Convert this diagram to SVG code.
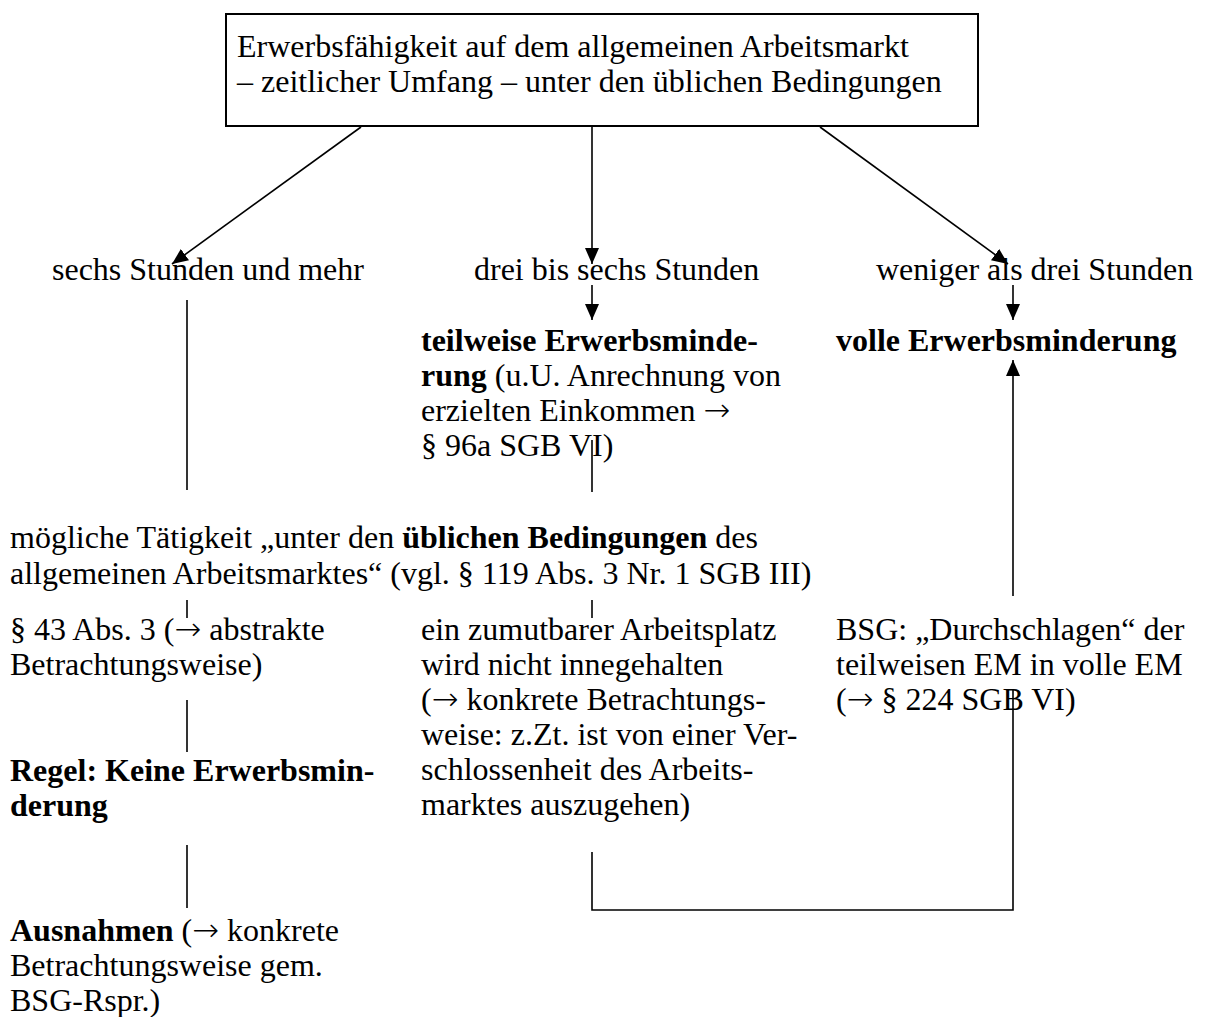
<svg xmlns="http://www.w3.org/2000/svg" width="1221" height="1017" viewBox="0 0 1221 1017">
  <defs>
    <marker id="arrowLg" viewBox="0 0 16 14" refX="16" refY="7" markerWidth="16" markerHeight="14" markerUnits="userSpaceOnUse" orient="auto">
      <path d="M0,0 L16,7 L0,14 Z" fill="#000"/>
    </marker>
  </defs>
  <style>
    text { font-family: "Liberation Serif", "Times New Roman", serif; font-size: 32px; fill: #000; }
    .b { font-weight: bold; }
    .ar { font-family: "DejaVu Sans", "Liberation Serif", serif; font-size: 32px; font-weight: 200; }
    .box { fill: #fff; stroke: #000; stroke-width: 2; }
    .ln { fill: none; stroke: #000; stroke-width: 1.6; }
  </style>
  <rect width="1221" height="1017" fill="#fff"/>

  <!-- connectors -->
  <g id="connectors">
    <line class="ln" x1="361" y1="127" x2="172" y2="264" marker-end="url(#arrowLg)"/>
    <line class="ln" x1="592" y1="127" x2="592" y2="264" marker-end="url(#arrowLg)"/>
    <line class="ln" x1="820" y1="127" x2="1008" y2="264" marker-end="url(#arrowLg)"/>
    <line class="ln" x1="592" y1="285" x2="592" y2="320" marker-end="url(#arrowLg)"/>
    <line class="ln" x1="1013" y1="285" x2="1013" y2="320" marker-end="url(#arrowLg)"/>
    <line class="ln" x1="1013" y1="596" x2="1013" y2="360" marker-end="url(#arrowLg)"/>
    <line class="ln" x1="187" y1="300" x2="187" y2="490"/>
    <line class="ln" x1="592" y1="440" x2="592" y2="492"/>
    <line class="ln" x1="187" y1="600" x2="187" y2="618"/>
    <line class="ln" x1="592" y1="600" x2="592" y2="618"/>
    <line class="ln" x1="187" y1="700" x2="187" y2="752"/>
    <line class="ln" x1="187" y1="845" x2="187" y2="908"/>
    <polyline class="ln" points="592,852 592,910 1013,910 1013,690"/>
  </g>

  <!-- top node -->
  <g id="node-erwerbsfaehigkeit">
    <rect class="box" x="226" y="14" width="752" height="112"/>
    <text x="237" y="57">Erwerbsfähigkeit auf dem allgemeinen Arbeitsmarkt</text>
    <text x="237" y="92">– zeitlicher Umfang – unter den üblichen Bedingungen</text>
  </g>

  <g id="node-sechs">
    <text x="52" y="280">sechs Stunden und mehr</text>
  </g>
  <g id="node-drei-bis-sechs">
    <text x="474" y="280">drei bis sechs Stunden</text>
  </g>
  <g id="node-weniger">
    <text x="876" y="280">weniger als drei Stunden</text>
  </g>

  <g id="node-teilweise">
    <text x="421" y="351" class="b">teilweise Erwerbsminde-</text>
    <text x="421" y="386"><tspan class="b">rung</tspan> (u.U. Anrechnung von</text>
    <text x="421" y="421">erzielten Einkommen <tspan class="ar">→</tspan></text>
    <text x="421" y="456">§ 96a SGB VI)</text>
  </g>
  <g id="node-volle">
    <text x="836" y="351" class="b">volle Erwerbsminderung</text>
  </g>

  <g id="node-moegliche">
    <text x="10" y="548">mögliche Tätigkeit „unter den <tspan class="b">üblichen Bedingungen</tspan> des</text>
    <text x="10" y="584">allgemeinen Arbeitsmarktes“ (vgl. § 119 Abs. 3 Nr. 1 SGB III)</text>
  </g>

  <g id="node-43">
    <text x="10" y="640">§ 43 Abs. 3 (<tspan class="ar">→</tspan> abstrakte</text>
    <text x="10" y="675">Betrachtungsweise)</text>
  </g>
  <g id="node-zumutbar">
    <text x="421" y="640">ein zumutbarer Arbeitsplatz</text>
    <text x="421" y="675">wird nicht innegehalten</text>
    <text x="421" y="710">(<tspan class="ar">→</tspan> konkrete Betrachtungs-</text>
    <text x="421" y="745">weise: z.Zt. ist von einer Ver-</text>
    <text x="421" y="780">schlossenheit des Arbeits-</text>
    <text x="421" y="815">marktes auszugehen)</text>
  </g>
  <g id="node-bsg">
    <text x="836" y="640">BSG: „Durchschlagen“ der</text>
    <text x="836" y="675">teilweisen EM in volle EM</text>
    <text x="836" y="710">(<tspan class="ar">→</tspan> § 224 SGB VI)</text>
  </g>

  <g id="node-regel">
    <text x="10" y="781" class="b">Regel: Keine Erwerbsmin-</text>
    <text x="10" y="816" class="b">derung</text>
  </g>
  <g id="node-ausnahmen">
    <text x="10" y="941"><tspan class="b">Ausnahmen</tspan> (<tspan class="ar">→</tspan> konkrete</text>
    <text x="10" y="976">Betrachtungsweise gem.</text>
    <text x="10" y="1011">BSG-Rspr.)</text>
  </g>
</svg>
